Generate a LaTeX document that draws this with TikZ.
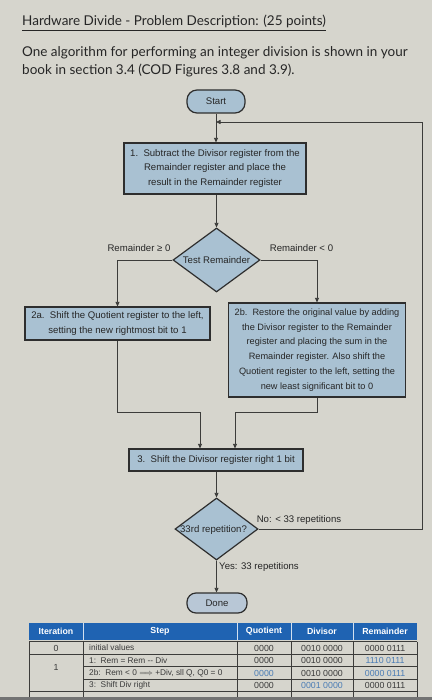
\documentclass[tikz,border=0pt]{standalone}
\usepackage{fontspec}
\setmainfont{Lato}
\newfontfamily\diag{Liberation Sans}
\usetikzlibrary{shapes.geometric,arrows.meta}
\definecolor{paper}{HTML}{D6D5CD}
\definecolor{boxfill}{HTML}{A9C1D2}
\definecolor{donefill}{HTML}{B8C7D6}
\definecolor{bord}{HTML}{2E2E2E}
\definecolor{linec}{HTML}{3C3C3A}
\definecolor{txt}{HTML}{262626}
\definecolor{hdrblue}{HTML}{1F63B2}
\definecolor{celltxt}{HTML}{3A3A3A}
\definecolor{bluetxt}{HTML}{4A7CB5}
\begin{document}
\begin{tikzpicture}[x=1pt,y=-1pt,
  box/.style={draw=bord, fill=boxfill, line width=1.2pt, inner sep=0pt, align=center, text=txt,
    font=\diag\fontsize{9.6}{14.8}\selectfont},
  term/.style={box, rounded corners=10pt},
  dia/.style={draw=bord, fill=boxfill, line width=1.2pt, diamond, inner sep=0pt},
  conn/.style={draw=linec, line width=0.8pt},
  arr/.style={conn, -{Triangle[length=4.5pt,width=4pt]}},
  lbl/.style={font=\diag\fontsize{9.6}{11}\selectfont, text=txt, inner sep=0pt},
  hdr/.style={font=\diag\bfseries\fontsize{8.8}{10}\selectfont, text=white, inner sep=0pt},
  cell/.style={font=\diag\fontsize{8.3}{10}\selectfont, text=celltxt, inner sep=0pt},
  num/.style={cell, font=\diag\fontsize{8.8}{10}\selectfont},
  tline/.style={draw=linec, line width=0.7pt},
  heading/.style={anchor=base west, inner sep=0pt, text=txt, font=\fontsize{13.5}{18}\selectfont},
  ]
\useasboundingbox (0,0) rectangle (432,700);
\fill[paper] (0,0) rectangle (432,700);

% heading
\node[heading] (title) at (22,26) {\underline{Hardware Divide - Problem Description: (25 points)}};
\node[heading] (para1) at (22,56.5) {One algorithm for performing an integer division is shown in your};
\node[heading] (para2) at (22,74.5) {book in section 3.4 (COD Figures 3.8 and 3.9).};

% flowchart nodes
\node[term, minimum width=58pt, minimum height=23pt] (start) at (216,101.5) {Start};
\node[box, minimum width=182pt, minimum height=51pt] (s1) at (215,168.5)
  {1.\ \ Subtract the Divisor register from the\\Remainder register and place the\\result in the Remainder register};
\node[dia, minimum width=87pt, minimum height=64pt] (test) at (216.5,260) {};
\node[lbl] (testtxt) at (test.center) {Test Remainder};
\node[box, minimum width=185pt, minimum height=33pt] (s2a) at (117.5,323.5)
  {2a.\ \ Shift the Quotient register to the left,\\setting the new rightmost bit to 1};
\node[box, minimum width=177pt, minimum height=94pt, font=\diag\fontsize{9.2}{14.8}\selectfont] (s2b) at (317,350)
  {2b.\ \ Restore the original value by adding\\the Divisor register to the Remainder\\register and placing the sum in the\\Remainder register. Also shift the\\Quotient register to the left, setting the\\new least significant bit to 0};
\node[box, minimum width=174pt, minimum height=22pt] (s3) at (216,460)
  {3.\ \ Shift the Divisor register right 1 bit};
\node[dia, minimum width=83pt, minimum height=62pt] (rep) at (216.5,529) {};
\node[lbl] (reptxt) at (213.5,530) {33rd repetition?};
\node[term, fill=donefill, minimum width=60pt, minimum height=20pt, rounded corners=9pt] (done) at (217,603) {Done};

% labels
\node[lbl] (lge) at (139,248) {Remainder ≥ 0};
\node[lbl] (llt) at (301.5,248) {Remainder < 0};
\node[lbl] (lno) at (299,520) {No: < 33 repetitions};
\node[lbl] (lyes) at (259,567) {Yes: 33 repetitions};

% connectors
\coordinate (loopin) at (216,122);
\coordinate (loopR) at (422,122);
\coordinate (ja) at (200,412);
\coordinate (jb) at (235,412);
\draw[arr] (start.south) -- (s1.north -| start.south);
\draw[arr] (s1.south -| test.north) -- (test.north);
\draw[arr] (test.west) -| (s2a.north);
\draw[arr] (test.east) -| (s2b.north);
\draw[arr] (s2a.south) |- (ja) -- (ja |- s3.north);
\draw[arr] (s2b.south) |- (jb) -- (jb |- s3.north);
\draw[arr] (s3.south -| rep.north) -- (rep.north);
\draw[arr] (rep.south) -- (done.north -| rep.south);
\draw[arr] (rep.east) -| (loopR) -- (loopin);

% table
\fill[hdrblue] (29,623) rectangle (417,640);
\foreach \cx in {83,237,291,353} \draw[white!80!hdrblue, line width=0.6pt] (\cx,623) -- (\cx,640);
\node[hdr] (hiter) at (56,631.5) {Iteration};
\node[hdr] (hstep) at (160,631.5) {Step};
\node[hdr] (hquot) at (264,631.5) {Quotient};
\node[hdr] (hdiv) at (322,631.5) {Divisor};
\node[hdr] (hrem) at (385,631.5) {Remainder};

\foreach \cx in {29,83,237,291,353,417} \draw[tline] (\cx,641.5) -- (\cx,697);
\draw[tline] (29,641.5) -- (417,641.5);
\draw[tline] (29,654) -- (417,654);
\draw[tline] (83,666.5) -- (417,666.5);
\draw[tline] (83,679) -- (417,679);
\draw[tline] (29,691.5) -- (417,691.5);

\node[num] (i0) at (56,648) {0};
\node[num] (i1) at (56,667) {1};
\node[cell, anchor=west] (st0) at (89,648) {initial values};
\node[cell, anchor=west] (st1) at (89,660.5) {1:\ \ Rem = Rem -- Div};
\node[cell, anchor=west] (st2) at (89,673) {2b:\ \ Rem < 0 \ensuremath{\Longrightarrow} +Div, sll Q, Q0 = 0};
\node[cell, anchor=west] (st3) at (89,685.5) {3:\ \ Shift Div right};
\node[num] (q0) at (264,648) {0000};
\node[num] (q1) at (264,660.5) {0000};
\node[num, text=bluetxt] (q2) at (264,673) {0000};
\node[num] (q3) at (264,685.5) {0000};
\node[num] (d0) at (322,648) {0010 0000};
\node[num] (d1) at (322,660.5) {0010 0000};
\node[num] (d2) at (322,673) {0010 0000};
\node[num, text=bluetxt] (d3) at (322,685.5) {0001 0000};
\node[num] (r0) at (385,648) {0000 0111};
\node[num, text=bluetxt] (r1) at (385,660.5) {1110 0111};
\node[num, text=bluetxt] (r2) at (385,673) {0000 0111};
\node[num] (r3) at (385,685.5) {0000 0111};

\fill[black!55] (0,697) rectangle (432,700);
\end{tikzpicture}
\end{document}
